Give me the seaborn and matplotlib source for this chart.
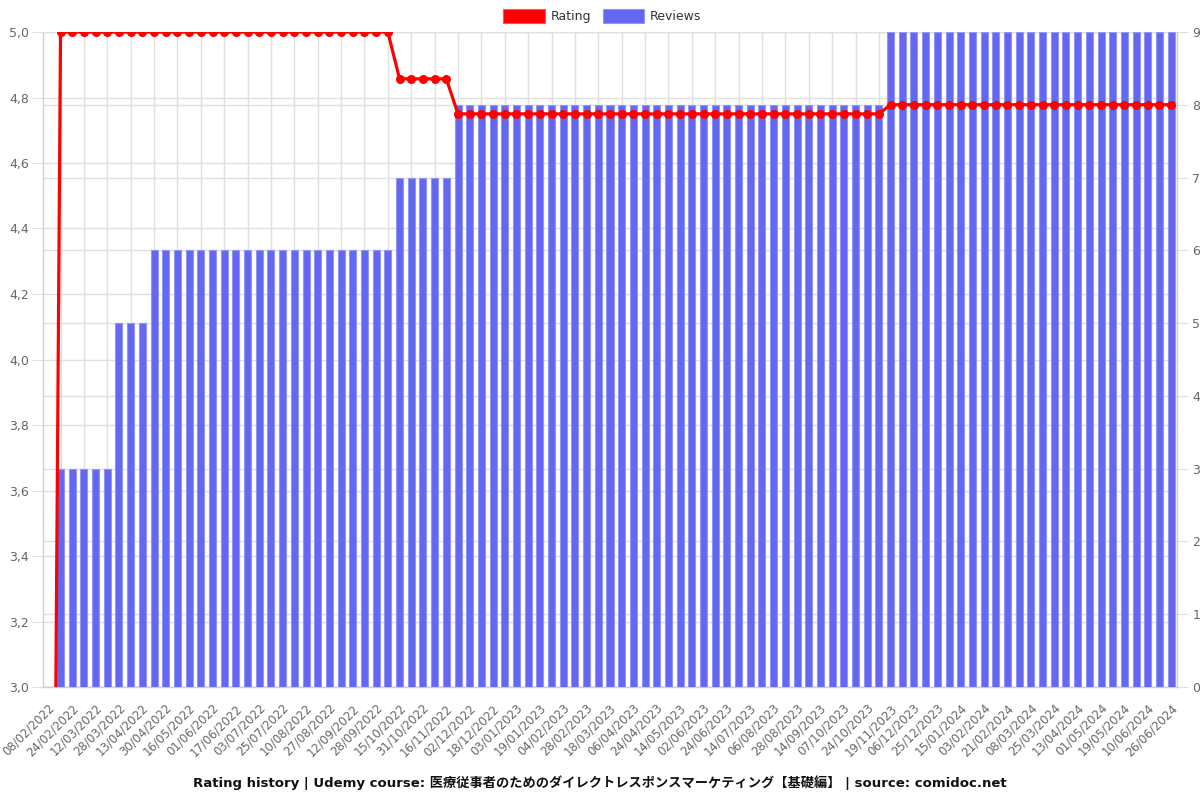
import matplotlib
matplotlib.use("Agg")
import matplotlib.pyplot as plt
import seaborn as sns
import pandas as pd
from matplotlib.patches import Patch
from matplotlib.ticker import FuncFormatter, MultipleLocator
from matplotlib.transforms import ScaledTranslation

sns.set_style("white")
plt.rcParams["font.family"] = ["DejaVu Sans", "Noto Sans CJK JP"]

# ---------------- data ----------------
date_labels = [
    "08/02/2022", "24/02/2022", "12/03/2022", "28/03/2022", "13/04/2022",
    "30/04/2022", "16/05/2022", "01/06/2022", "17/06/2022", "03/07/2022",
    "25/07/2022", "10/08/2022", "27/08/2022", "12/09/2022", "28/09/2022",
    "15/10/2022", "31/10/2022", "16/11/2022", "02/12/2022", "18/12/2022",
    "03/01/2023", "19/01/2023", "04/02/2023", "28/02/2023", "18/03/2023",
    "06/04/2023", "24/04/2023", "14/05/2023", "02/06/2023", "24/06/2023",
    "14/07/2023", "06/08/2023", "28/08/2023", "14/09/2023", "07/10/2023",
    "24/10/2023", "19/11/2023", "06/12/2023", "25/12/2023", "15/01/2024",
    "03/02/2024", "21/02/2024", "08/03/2024", "25/03/2024", "13/04/2024",
    "01/05/2024", "19/05/2024", "10/06/2024", "26/06/2024",
]

reviews = [
    0, 3, 3, 3, 3, 3, 5, 5, 5,
    6, 6, 6, 6, 6, 6, 6, 6, 6, 6, 6, 6, 6, 6, 6, 6, 6, 6, 6, 6, 6,
    7, 7, 7, 7, 7,
    8, 8, 8, 8, 8, 8, 8, 8, 8, 8,
    8, 8, 8, 8, 8, 8, 8, 8, 8, 8,
    8, 8, 8, 8, 8, 8, 8, 8, 8, 8,
    8, 8, 8, 8, 8, 8, 8,
    9, 9, 9, 9, 9, 9, 9, 9, 9, 9,
    9, 9, 9, 9, 9, 9, 9, 9, 9, 9,
    9, 9, 9, 9, 9,
]

rating = [
    0.0,
    5.0, 5.0, 5.0, 5.0, 5.0, 5.0, 5.0, 5.0, 5.0, 5.0,
    5.0, 5.0, 5.0, 5.0, 5.0, 5.0, 5.0, 5.0, 5.0, 5.0,
    5.0, 5.0, 5.0, 5.0, 5.0, 5.0, 5.0, 5.0, 5.0,
    4.857, 4.857, 4.857, 4.857, 4.857,
    4.75, 4.75, 4.75, 4.75, 4.75, 4.75, 4.75, 4.75, 4.75, 4.75,
    4.75, 4.75, 4.75, 4.75, 4.75, 4.75, 4.75, 4.75, 4.75, 4.75,
    4.75, 4.75, 4.75, 4.75, 4.75, 4.75, 4.75, 4.75, 4.75, 4.75,
    4.75, 4.75, 4.75, 4.75, 4.75, 4.75, 4.75,
    4.778, 4.778, 4.778, 4.778, 4.778, 4.778, 4.778, 4.778, 4.778, 4.778,
    4.778, 4.778, 4.778, 4.778, 4.778, 4.778, 4.778, 4.778, 4.778, 4.778,
    4.778, 4.778, 4.778, 4.778, 4.778,
]

TITLE = ("Rating history | Udemy course: "
         "医療従事者のためのダイレクトレスポンスマーケティング【基礎編】"
         " | source: comidoc.net")

# ---------------- style ----------------
BAR = "#6467f0"
BAR_EDGE = "#9496f5"
RED = "#ff0000"
GRID = "#e0e0e0"
SPINE = "#cfcfcf"
TXT = "#666666"

n = len(reviews)
df = pd.DataFrame({"idx": list(range(n)), "reviews": reviews, "rating": rating})

fig = plt.figure(figsize=(12, 8), dpi=100)
L, R, B, T = 43 / 1200, 1177 / 1200, 1 - 687 / 800, 1 - 32 / 800
ax = fig.add_axes([L, B, R - L, T - B])
ax_r = ax.twinx()
ax_l = ax.twinx()
ax.set_zorder(0)
ax_r.set_zorder(1)
ax_l.set_zorder(2)
ax_r.patch.set_visible(False)
ax_l.patch.set_visible(False)

sns.barplot(data=df, x="idx", y="reviews", ax=ax_r, color=BAR, saturation=1,
            width=0.6, edgecolor=BAR_EDGE, linewidth=0.8)
sns.lineplot(data=df, x="idx", y="rating", ax=ax_l, color=RED, linewidth=2.3,
             marker="o", markersize=6.5, markeredgewidth=0)

# x axis
ax.set_xlim(-0.5, n - 0.5)
ax.set_xticks(range(0, n, 2))
ax.set_xticklabels(date_labels, rotation=45, ha="right", va="center",
                   rotation_mode="anchor", color=TXT, fontsize=8.5)
ax.set_xticks(range(1, n, 2), minor=True)
ax.tick_params(axis="x", which="major", length=0, pad=8)
ax.tick_params(axis="x", which="minor", length=5, color=GRID, width=1)
ax.grid(axis="x", which="minor", color=GRID, linewidth=1)
ax.grid(axis="x", which="major", visible=False)

# left rating axis
ax.set_ylim(3, 5)
ax.yaxis.set_major_locator(MultipleLocator(0.2))
ax.yaxis.set_major_formatter(FuncFormatter(lambda v, p: f"{v:.1f}".replace(".", ",")))
ax.tick_params(axis="y", length=8, color=GRID, labelcolor=TXT, labelsize=9, pad=2)
ax.grid(axis="y", color=GRID, linewidth=1)
ax.set_xlabel("")
ax.set_ylabel("")

# right reviews axis
ax_r.set_ylim(0, 9)
ax_r.yaxis.set_major_locator(MultipleLocator(1))
ax_r.tick_params(axis="y", length=8, color=GRID, labelcolor=TXT, labelsize=9, pad=3)
ax_r.grid(axis="y", color=GRID, linewidth=1)
ax_r.set_axisbelow(True)
ax_r.set_ylabel("")
ax_r.set_xlabel("")

# line axis
ax_l.set_ylim(3, 5)
ax_l.yaxis.set_visible(False)
ax_l.set_ylabel("")
ax_l.set_xlabel("")
ax.set_xlim(-0.5, n - 0.5)

for a in (ax, ax_r, ax_l):
    for s in a.spines.values():
        s.set_visible(False)
ax.spines["left"].set_visible(True)
ax.spines["bottom"].set_visible(True)
ax_r.spines["right"].set_visible(True)
for s in (ax.spines["left"], ax.spines["bottom"], ax_r.spines["right"]):
    s.set_color(SPINE)
    s.set_linewidth(1)

handles = [Patch(facecolor=RED, edgecolor="#ff5555", linewidth=0.8),
           Patch(facecolor=BAR, edgecolor=BAR_EDGE, linewidth=0.8)]
fig.legend(handles=handles, labels=["Rating", "Reviews"], loc="center",
           bbox_to_anchor=(0.502, 1 - 16 / 800), ncol=2, frameon=False,
           handlelength=3.3, handleheight=1.3, columnspacing=0.9,
           handletextpad=0.5, fontsize=9, labelcolor="#333333")

fig.text(0.5, 1 - 783 / 800, TITLE, ha="center", va="center",
         fontsize=9.5, fontweight="bold", color="#111111")

# shift rotated date labels so their ends sit like the reference
shift = ScaledTranslation(4 / 100, -8 / 100, fig.dpi_scale_trans)
for tick in ax.xaxis.get_major_ticks():
    tick.label1.set_transform(tick.label1.get_transform() + shift)

fig.savefig("out.png", dpi=100)
